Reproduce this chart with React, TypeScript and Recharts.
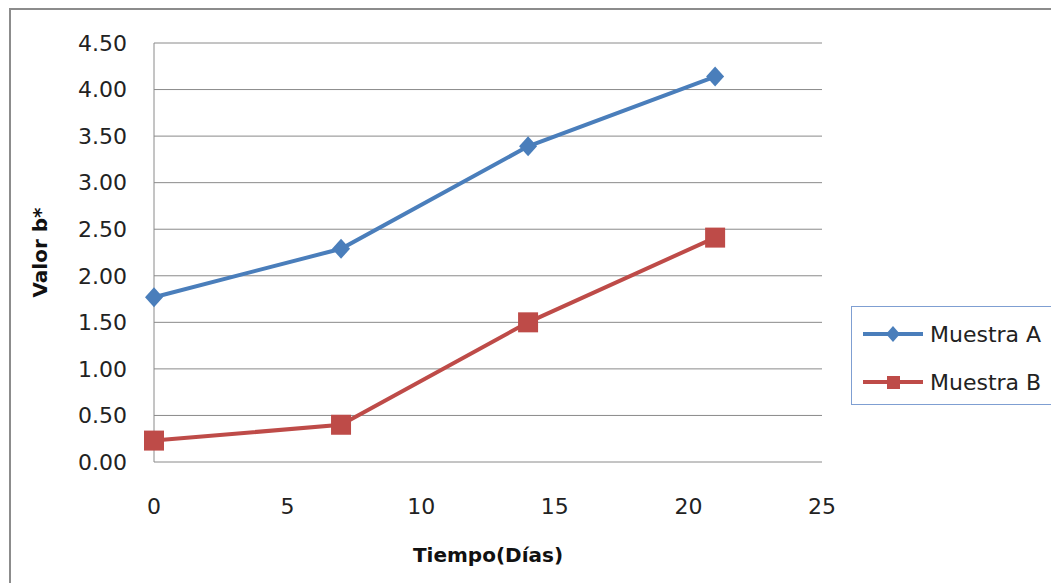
import React from 'react';
import { LineChart, Line, XAxis, YAxis, CartesianGrid } from 'recharts';

// Valor b* over storage time
const dias = [0, 7, 14, 21];
const muestraA = [1.77, 2.29, 3.39, 4.14];
const muestraB = [0.23, 0.4, 1.5, 2.41];
const xTicks = [0, 5, 10, 15, 20, 25];
const yTicks = [0, 0.5, 1, 1.5, 2, 2.5, 3, 3.5, 4, 4.5];
const seriesNames = ['Muestra A', 'Muestra B'];

const BLUE = '#4a7ebb';
const RED = '#be4b48';
const GRID = '#8a8a8a';
const FONT = '"DejaVu Sans", sans-serif';

const data = dias.map((d, i) => ({ dia: d, a: muestraA[i], b: muestraB[i] }));

const Diamond = (props: any) => {
  const { cx, cy } = props;
  if (cx == null || cy == null) return null;
  return <path d={`M${cx},${cy - 10}L${cx + 9},${cy}L${cx},${cy + 10}L${cx - 9},${cy}Z`} fill={BLUE} />;
};

const Square = (props: any) => {
  const { cx, cy } = props;
  if (cx == null || cy == null) return null;
  return <rect x={cx - 10} y={cy - 10} width={20} height={20} fill={RED} />;
};

const LegendBox = () => (
  <div
    style={{
      position: 'absolute',
      left: 851,
      top: 306,
      border: '1px solid #7f9fd2',
      background: '#fff',
      height: 99,
      width: 230,
      boxSizing: 'border-box',
      fontFamily: FONT,
      fontSize: 22,
      color: '#222',
    }}
  >
    {seriesNames.map((name, i) => (
      <div key={name} style={{ display: 'flex', alignItems: 'center', position: 'absolute', left: 11, top: 13 + i * 48, height: 28 }}>
        <svg width={62} height={24}>
          <line x1={0} y1={12} x2={60} y2={12} stroke={i === 0 ? BLUE : RED} strokeWidth={4} />
          {i === 0 ? (
            <path d="M30,4L37,12L30,20L23,12Z" fill={BLUE} />
          ) : (
            <rect x={24} y={6} width={13} height={13} fill={RED} />
          )}
        </svg>
        <span style={{ marginLeft: 5 }}>{name}</span>
      </div>
    ))}
  </div>
);

export default function App() {
  return (
    <div style={{ position: 'fixed', left: 0, top: 0, width: 1051, height: 583, overflow: 'hidden', background: '#fff' }}>
      <div
        style={{
          position: 'absolute',
          left: 9,
          top: 8,
          width: 1200,
          height: 800,
          border: '2px solid #8c8c8c',
        }}
      />
      <div style={{ position: 'absolute', left: 0, top: 0 }}>
        <LineChart width={1051} height={583} data={data} margin={{ top: 43, right: 229, bottom: 11, left: 8 }}>
          <CartesianGrid vertical={false} stroke={GRID} strokeWidth={1} />
          <XAxis
            dataKey="dia"
            type="number"
            domain={[0, 25]}
            ticks={xTicks}
            axisLine={false}
            tickLine={false}
            tickMargin={30}
            height={110}
            interval={0}
            tick={{ fill: '#222', fontSize: 22, fontFamily: FONT }}
            label={{
              value: 'Tiempo(Días)',
              position: 'insideBottom',
              offset: 10,
              style: { fill: '#111', fontSize: 20, fontWeight: 'bold', fontFamily: FONT },
            }}
          />
          <YAxis
            type="number"
            domain={[0, 4.5]}
            ticks={yTicks}
            width={146}
            axisLine={{ stroke: GRID }}
            tickLine={false}
            tickMargin={21}
            interval={0}
            tickFormatter={(v: number) => v.toFixed(2)}
            tick={{ fill: '#222', fontSize: 22, fontFamily: FONT }}
            label={{
              value: 'Valor b*',
              angle: -90,
              position: 'center',
              dx: -41,
              style: { fill: '#111', fontSize: 20, fontWeight: 'bold', fontFamily: FONT, textAnchor: 'middle' },
            }}
          />
          <Line
            dataKey="a"
            name={seriesNames[0]}
            stroke={BLUE}
            strokeWidth={4}
            dot={<Diamond />}
            activeDot={false}
            isAnimationActive={false}
          />
          <Line
            dataKey="b"
            name={seriesNames[1]}
            stroke={RED}
            strokeWidth={4}
            dot={<Square />}
            activeDot={false}
            isAnimationActive={false}
          />
        </LineChart>
      </div>
      <LegendBox />
    </div>
  );
}
